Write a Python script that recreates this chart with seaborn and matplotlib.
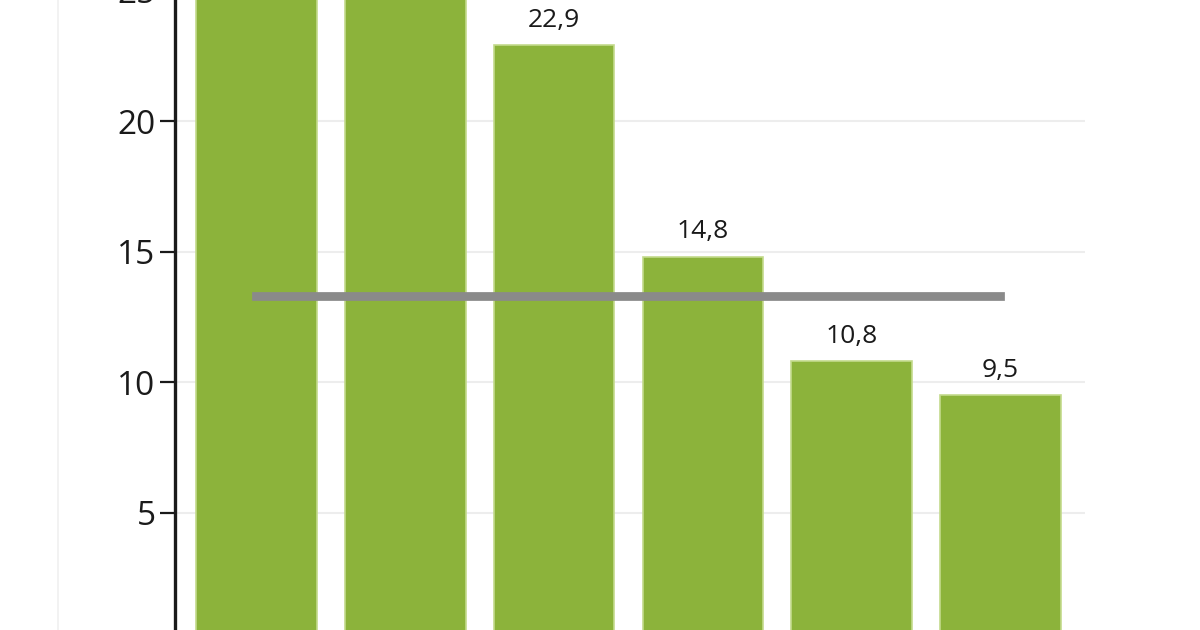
import pandas as pd
import numpy as np
import matplotlib
matplotlib.use('Agg')
import matplotlib.pyplot as plt
import seaborn as sns
from matplotlib.lines import Line2D

# Data (first two bars run past the top of the crop)
categories = ['1', '2', '3', '4', '5', '6']
values = [27.6, 26.0, 22.9, 14.8, 10.8, 9.5]
value_labels = ['27,6', '26,0', '22,9', '14,8', '10,8', '9,5']
reference_value = 13.3
y_ticks = [0, 5, 10, 15, 20, 25]

df = pd.DataFrame({'category': categories, 'value': values})

sns.set_style('white')
plt.rcParams['font.family'] = ['Open Sans', 'DejaVu Sans']

fig = plt.figure(figsize=(12, 6.3), dpi=100)
# axes runs a little past the top edge, so the chart looks cropped like the original
ax = fig.add_axes([0.1458, 0.0, 0.7583, 1.036])

sns.barplot(data=df, x='category', y='value', color='#8cb33b', saturation=1,
            width=0.81, edgecolor='#c3da8c', linewidth=1.2, ax=ax, zorder=2)

# labels above the bars
ax.bar_label(ax.containers[0], labels=value_labels, padding=9,
             fontsize=19, color='#1a1a1a')

# grey reference line from first to last bar
ax.plot([0, len(categories) - 1], [reference_value, reference_value],
        color='#8a8a8a', linewidth=6.3, solid_capstyle='projecting', zorder=3)

ax.set_yticks(y_ticks)
ax.set_yticklabels([str(t) for t in y_ticks])
# limits after the ticks, set_yticks would otherwise widen them to 0
ax.set_ylim(0.52, 25.5)
ax.set_xlim(-0.548, 5.568)
ax.yaxis.grid(True, color='#ededed', linewidth=1.5, zorder=0)
ax.set_axisbelow(True)

ax.set_xlabel('')
ax.set_ylabel('')
ax.set_xticks([])
ax.set_xlim(-0.548, 5.568)

for side in ['top', 'right', 'bottom']:
    ax.spines[side].set_visible(False)
ax.spines['left'].set_color('#1a1a1a')
ax.spines['left'].set_linewidth(2.4)
ax.tick_params(axis='y', which='major', left=True, length=11, width=1.6,
               color='#1a1a1a', pad=3, labelsize=24, labelcolor='#1a1a1a')

# faint border line of the original image
fig.add_artist(Line2D([0.048, 0.048], [0, 1], color='#f0f0f0', linewidth=1.2))

fig.savefig('out.png', dpi=100)
